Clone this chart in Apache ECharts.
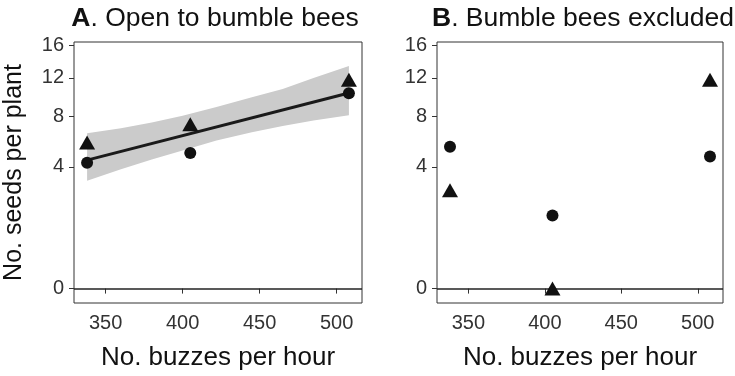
<!DOCTYPE html>
<html>
<head>
<meta charset="utf-8">
<script src="https://cdn.jsdelivr.net/npm/echarts@6/dist/echarts.min.js"></script>
<style>
  html, body { margin: 0; padding: 0; background: #fff; }
  #chart { width: 735px; height: 376px; }
</style>
</head>
<body>
<div id="chart"></div>
<script>
// buzzes per hour (x) and seeds per plant (y, shown on a sqrt axis)
const xBuzz = [338, 405, 508];
const openCircle = [4.28, 4.97, 10.33];
const openTriangle = [5.78, 7.30, 11.78];
const exclCircle = [5.44, 1.44, 4.71];
const exclTriangle = [2.62, 0, 11.78];
// fitted line + confidence band, panel A
const fitX = [338, 508];
const fitY = [4.46, 10.35];
const bandX = [338, 360, 380, 400, 422, 445, 465, 485, 508];
const bandHi = [6.52, 6.95, 7.45, 8.08, 8.92, 9.89, 10.78, 12.0, 13.4];
const bandLo = [3.14, 3.85, 4.50, 5.15, 5.93, 6.61, 7.15, 7.65, 8.12];
// axis ticks
const xTicks = [350, 400, 450, 500];
const yTicks = [0, 4, 8, 12, 16];

const FONT = 'Liberation Sans, Arial, sans-serif';
const sq = v => Math.sqrt(v);
const pts = (xs, ys) => xs.map((x, i) => [x, sq(ys[i])]);

const chart = echarts.init(document.getElementById('chart'));

function xAxisCfg(idx) {
  return {
    type: 'value', gridIndex: idx, min: 329.5, max: 516.5,
    name: 'No. buzzes per hour', nameLocation: 'middle', nameGap: 42,
    nameTextStyle: { fontFamily: FONT, fontSize: 26, color: '#111' },
    axisLine: { show: false },
    axisTick: { show: true, length: 5, customValues: xTicks, lineStyle: { color: '#333', width: 1 } },
    axisLabel: { customValues: xTicks, margin: 10, fontFamily: FONT, fontSize: 20, color: '#333' },
    splitLine: { show: false }
  };
}
function yAxisCfg(idx, withName) {
  return {
    type: 'value', gridIndex: idx, min: -0.237, max: 4.055,
    name: withName ? 'No. seeds per plant' : '', nameLocation: 'middle', nameGap: 47,
    nameTextStyle: { fontFamily: FONT, fontSize: 25, color: '#111' },
    axisLine: { show: false },
    axisTick: { show: true, length: 5, customValues: yTicks.map(sq), lineStyle: { color: '#333', width: 1 } },
    axisLabel: {
      customValues: yTicks.map(sq), margin: 10, fontFamily: FONT, fontSize: 20, color: '#333',
      formatter: v => String(Math.round(v * v))
    },
    splitLine: { show: false }
  };
}
function scatter(idx, ys, symbol, size) {
  return {
    type: 'scatter', xAxisIndex: idx, yAxisIndex: idx, data: pts(xBuzz, ys),
    symbol: symbol, symbolSize: size, itemStyle: { color: '#111', opacity: 1 }, z: 5
  };
}
function titleCfg(letter, rest, cx) {
  return {
    text: '{b|' + letter + '}' + rest, left: cx, top: 0, textAlign: 'center',
    textStyle: { fontFamily: FONT, fontSize: 26.5, fontWeight: 'normal', color: '#111',
      rich: { b: { fontFamily: FONT, fontSize: 26.5, fontWeight: 'bold', color: '#111' } } }
  };
}

const option = {
  animation: false,
  backgroundColor: '#fff',
  title: [
    titleCfg('A', '. Open to bumble bees', 210),
    titleCfg('B', '. Bumble bees excluded', 578)
  ],
  grid: [
    { left: 74, right: 373, top: 42, bottom: 69, show: true, borderColor: '#333', borderWidth: 1, backgroundColor: 'transparent' },
    { left: 437, right: 12, top: 42, bottom: 69, show: true, borderColor: '#333', borderWidth: 1, backgroundColor: 'transparent' }
  ],
  xAxis: [xAxisCfg(0), xAxisCfg(1)],
  yAxis: [yAxisCfg(0, true), yAxisCfg(1, false)],
  series: [
    // confidence band as one polygon: upper edge forward, lower edge back
    {
      type: 'custom', xAxisIndex: 0, yAxisIndex: 0, silent: true, z: 1,
      data: [0],
      renderItem: function (params, api) {
        const upper = bandX.map((x, i) => api.coord([x, sq(bandHi[i])]));
        const lower = bandX.map((x, i) => api.coord([x, sq(bandLo[i])])).reverse();
        return {
          type: 'polygon',
          shape: { points: upper.concat(lower) },
          style: { fill: '#cbcbcb', stroke: null }
        };
      }
    },
    {
      type: 'line', xAxisIndex: 0, yAxisIndex: 0, symbol: 'none', data: pts(fitX, fitY),
      lineStyle: { color: '#1a1a1a', width: 3 }, z: 3,
      markLine: { silent: true, symbol: 'none', label: { show: false },
        lineStyle: { color: '#222', width: 1.5, type: 'solid' }, data: [{ yAxis: 0 }] }
    },
    {
      type: 'line', xAxisIndex: 1, yAxisIndex: 1, symbol: 'none', data: [],
      markLine: { silent: true, symbol: 'none', label: { show: false },
        lineStyle: { color: '#222', width: 1.5, type: 'solid' }, data: [{ yAxis: 0 }] }
    },
    scatter(0, openTriangle, 'triangle', [16, 14]),
    scatter(0, openCircle, 'circle', 12),
    scatter(1, exclTriangle, 'triangle', [16, 14]),
    scatter(1, exclCircle, 'circle', 12)
  ]
};
chart.setOption(option);
</script>
</body>
</html>
